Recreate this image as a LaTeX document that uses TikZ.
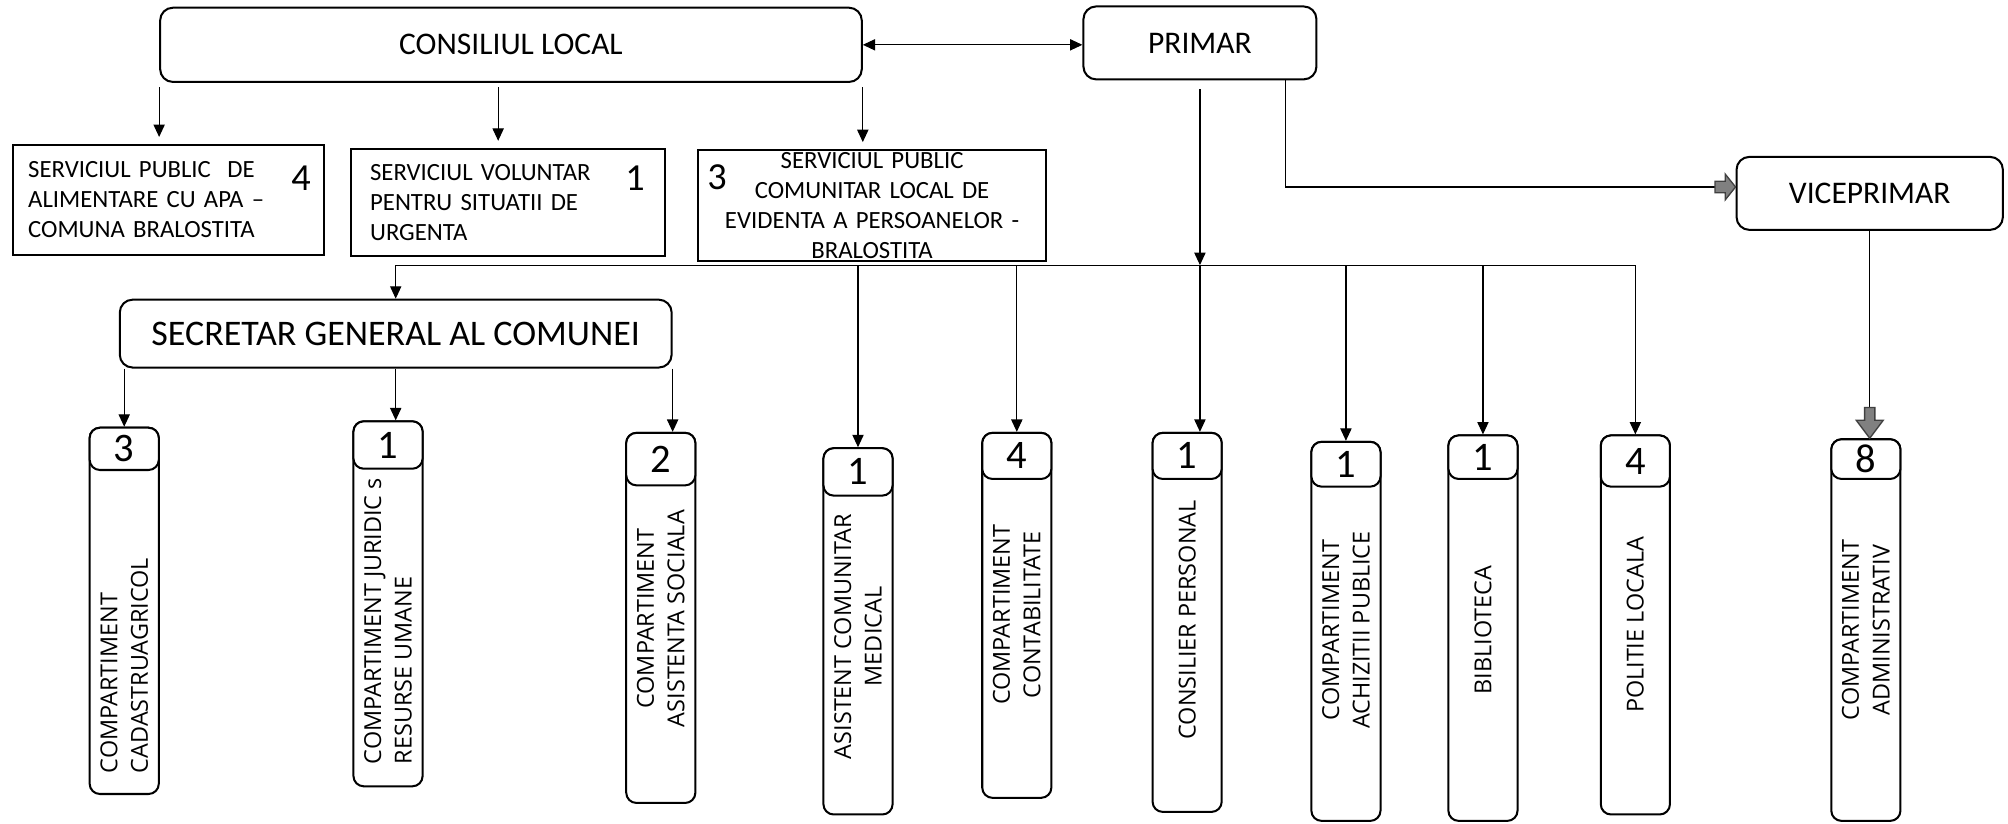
\documentclass[tikz,border=0pt]{standalone}
\usepackage{fontspec}
\setmainfont{Carlito}
\newfontfamily\colfont{Open Sans}
\usetikzlibrary{arrows.meta, positioning, fit}

\begin{document}
\begin{tikzpicture}[x=0.02cm, y=-0.02cm,
    topbox/.style={draw, line width=0.9pt, rounded corners=0.2cm, inner sep=0pt, font=\fontsize{14}{16}\selectfont},
    sqbox/.style={draw, line width=0.9pt, inner ysep=0pt, font=\fontsize{11}{13.4}\selectfont},
    colbox/.style={draw, line width=0.9pt, rounded corners=0.16cm, inner sep=0pt, fill=white},
    nrtext/.style={font=\fontsize{18}{18}\selectfont, inner sep=0pt},
    vtext/.style={rotate=90, font=\colfont\fontsize{10.4}{13.6}\selectfont, inner sep=0pt},
    arr/.style={line width=0.5pt, -{Triangle[length=5.5pt,width=5pt]}},
    link/.style={line width=0.5pt},
    blockarr/.style={draw=black!75, fill=black!50, line width=0.6pt}
  ]
  \useasboundingbox (0,0) rectangle (1568,643);

  % conducere
  \node[topbox, minimum width=10.96cm, minimum height=1.16cm] (consiliu) at (399,35) {CONSILIUL LOCAL};
  \node[topbox, minimum width=3.64cm, minimum height=1.14cm] (prim) at (937,33.5) {PRIMAR};
  \node[topbox, minimum width=4.16cm, minimum height=1.14cm] (vice) at (1460,151) {VICEPRIMAR};
  \node[topbox, minimum width=8.62cm, minimum height=1.06cm, font=\fontsize{16}{18}\selectfont] (secr) at (309,260.5) {SECRETAR GENERAL AL COMUNEI};

  % servicii
  \node[sqbox, minimum height=1.72cm, inner xsep=0.24cm, text width=4.38cm, align=left] (apa) at (131.5,156)
    {SERVICIUL PUBLIC~~DE\\ALIMENTARE CU APA --\\COMUNA BRALOSTITA};
  \node[sqbox, minimum height=1.68cm, inner xsep=0.3cm, text width=4.3cm, align=left] (urg) at (396.5,158)
    {SERVICIUL VOLUNTAR\\PENTRU SITUATII DE\\URGENTA};
  \node[sqbox, minimum height=1.74cm, inner xsep=0pt, text width=5.44cm, align=center] (evid) at (681,160.5)
    {SERVICIUL PUBLIC\\COMUNITAR LOCAL DE\\EVIDENTA A PERSOANELOR -\\BRALOSTITA};
  \node[font=\fontsize{17}{17}\selectfont] (nrapa) at (235,139) {4};
  \node[font=\fontsize{17}{17}\selectfont] (nrurg) at (496,139) {1};
  \node[font=\fontsize{17}{17}\selectfont] (nrevid) at (560,138) {3};

  % compartimente
  \foreach \n/\x/\t/\h/\b/\k/\a/\l/\p/\s in {
      cad/97/334/367/620/3/west/left/604/{COMPARTIMENT\\CADASTRUAGRICOL},
      jur/303/329/366/614/1/west/left/597/{COMPARTIMENT JURIDIC s\\RESURSE UMANE},
      soc/516/338/379/627/2/center/center/483/{COMPARTIMENT\\ASISTENTA SOCIALA},
      med/670/350/387/636/1/center/center/497/{ASISTENT COMUNITAR\\MEDICAL},
      cont/794/338/374/623/4/center/center/480/{COMPARTIMENT\\CONTABILITATE},
      cons/927/338/374/634/1/center/center/484/{CONSILIER PERSONAL},
      achiz/1051/345/380/641/1/center/center/492/{COMPARTIMENT\\ACHIZITII PUBLICE},
      bib/1158/340/374/641/1/center/center/492/{BIBLIOTECA},
      pol/1277/340/380/636/4/center/center/488/{POLITIE LOCALA},
      adm/1457/343/374/641/8/center/center/492/{COMPARTIMENT\\ADMINISTRATIV}}
  {
    \node[colbox, fit={(\x-27,\t) (\x+27,\b)}] (\n) {};
    \node[colbox, fit={(\x-27,\t) (\x+27,\h)}] (nr\n) {};
    \node[nrtext] at (nr\n) {\k};
    \node[vtext, anchor=\a, align=\l] at (\x,\p) {\s};
  }

  % legaturi consiliu
  \draw[arr, {Triangle[length=5.5pt,width=5pt]}-{Triangle[length=5.5pt,width=5pt]}] (consiliu.east) -- (consiliu.east -| prim.west);
  \draw[arr, shorten <=2pt, shorten >=3pt] (consiliu.south west) -- (consiliu.south west |- apa.north);
  \draw[arr, shorten <=2pt, shorten >=3pt] ([xshift=-0.2cm]consiliu.south) -- ([xshift=-0.2cm]consiliu.south |- urg.north);
  \draw[arr, shorten <=2pt, shorten >=3pt] (consiliu.south east) -- (consiliu.south east |- evid.north);

  % linia comuna
  \coordinate (bus) at (0,207);
  \draw[link] (bus -| secr.north) -- (bus -| pol.north);
  \draw[arr] (bus -| secr.north) -- (secr.north);
  \foreach \n in {med, cont, achiz, bib, pol}
    \draw[arr] (bus -| \n.north) -- (\n.north);
  \draw[arr, shorten <=0.14cm] (prim.south) -- (prim.south |- bus);
  \draw[arr] (bus -| prim.south) -- (prim.south |- cons.north);

  % secretar
  \draw[arr] (cad.north |- secr.south) -- (cad.north);
  \draw[arr] (secr.south) -- (secr.south |- jur.north);
  \draw[arr] (secr.south east) -- (secr.south east |- soc.north);

  % viceprimar
  \coordinate (viceIn) at ([yshift=0.1cm]vice.west);
  \draw[link] ([xshift=-0.5cm]prim.south east) |- (viceIn);
  \filldraw[blockarr] (viceIn) -- ++(-8,-10) -- ++(0,5.5) -- ++(-8,0) -- ++(0,9) -- ++(8,0) -- ++(0,5.5) -- cycle;
  \draw[link] (vice.south) -- (vice.south |- adm.north);
  \filldraw[blockarr] (vice.south |- adm.north) -- ++(-10.5,-14) -- ++(6.5,0) -- ++(0,-10) -- ++(8,0) -- ++(0,10) -- ++(6.5,0) -- cycle;
\end{tikzpicture}
\end{document}
